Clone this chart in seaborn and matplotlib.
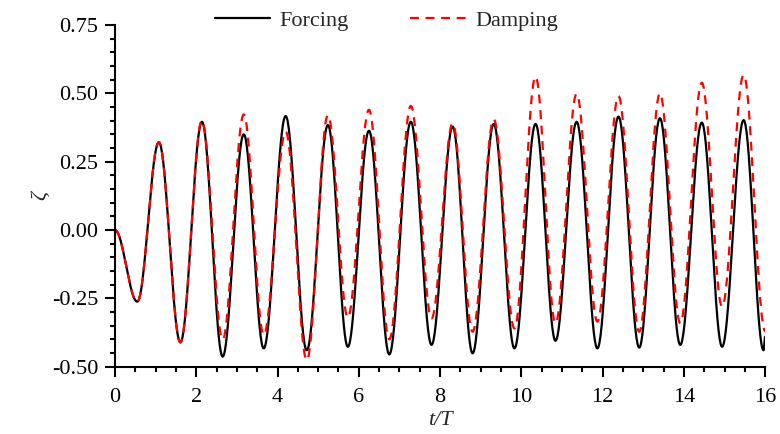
import numpy as np
import pandas as pd
import matplotlib
matplotlib.use("Agg")
import matplotlib.pyplot as plt
import seaborn as sns
from matplotlib.ticker import MultipleLocator, FormatStrFormatter

# Turning points (crests / troughs) of the surface elevation, time in wave periods
t_forcing = [0.00, 0.55, 1.08, 1.61, 2.14, 2.65, 3.17, 3.66, 4.20, 4.72, 5.24,
             5.73, 6.25, 6.75, 7.28, 7.79, 8.31, 8.80, 9.32, 9.83, 10.35,
             10.84, 11.36, 11.87, 12.39, 12.90, 13.41, 13.91, 14.44, 14.94,
             15.47, 15.96, 16.00]
zeta_forcing = [0.000, -0.262, 0.321, -0.411, 0.396, -0.463, 0.350, -0.433,
                0.417, -0.440, 0.384, -0.427, 0.363, -0.455, 0.396, -0.420,
                0.378, -0.451, 0.388, -0.433, 0.388, -0.405, 0.396, -0.433,
                0.415, -0.430, 0.409, -0.420, 0.393, -0.427, 0.402, -0.440,
                -0.390]

t_damping = [0.00, 0.55, 1.08, 1.61, 2.14, 2.65, 3.17, 3.66, 4.20, 4.72, 5.24,
             5.73, 6.25, 6.75, 7.28, 7.79, 8.31, 8.80, 9.32, 9.83, 10.35,
             10.84, 11.36, 11.87, 12.39, 12.90, 13.41, 13.91, 14.44, 14.94,
             15.47, 16.00]
zeta_damping = [0.000, -0.262, 0.321, -0.411, 0.400, -0.400, 0.423, -0.384,
                0.360, -0.476, 0.420, -0.320, 0.440, -0.400, 0.454, -0.323,
                0.390, -0.372, 0.405, -0.360, 0.561, -0.341, 0.498, -0.335,
                0.490, -0.372, 0.500, -0.341, 0.539, -0.280, 0.567, -0.370]

series_names = ["Forcing", "Damping"]


def wave_trace(times, values, n=40):
    """Smooth trace through successive turning points (zero slope at each)."""
    ts, vs = [], []
    for (t0, t1), (v0, v1) in zip(zip(times[:-1], times[1:]),
                                  zip(values[:-1], values[1:])):
        s = np.linspace(0.0, 1.0, n, endpoint=False)
        ts.append(t0 + (t1 - t0) * s)
        vs.append(v0 + (v1 - v0) * (1 - np.cos(np.pi * s)) / 2)
    ts.append([times[-1]])
    vs.append([values[-1]])
    return np.concatenate(ts), np.concatenate(vs)


frames = []
for name, tt, zz in [("Forcing", t_forcing, zeta_forcing),
                     ("Damping", t_damping, zeta_damping)]:
    tx, zx = wave_trace(tt, zz)
    frames.append(pd.DataFrame({"t": tx, "zeta": zx, "series": name}))
df = pd.concat(frames, ignore_index=True)

sns.set_theme(style="ticks")
plt.rcParams["font.family"] = ["Liberation Serif", "DejaVu Serif"]
plt.rcParams["axes.unicode_minus"] = False

fig = plt.figure(figsize=(7.8, 4.34), dpi=100)
ax = fig.add_axes([0.1474, 0.155, 0.8336, 0.7874])

sns.lineplot(data=df, x="t", y="zeta", hue="series", style="series",
             hue_order=series_names, style_order=series_names,
             palette={"Forcing": "black", "Damping": "red"},
             dashes={"Forcing": "", "Damping": (4, 3)},
             estimator=None, sort=False, linewidth=1.6, ax=ax)

handles, labels = ax.get_legend_handles_labels()
ax.get_legend().remove()
fig.legend(handles, labels, loc="center", bbox_to_anchor=(0.495, 0.953),
           ncol=2, frameon=False, fontsize=16, handlelength=2.5,
           handletextpad=0.4, columnspacing=2.8)

ax.set_xlim(0, 16)
ax.set_ylim(-0.5, 0.75)
ax.xaxis.set_major_locator(MultipleLocator(2))
ax.xaxis.set_minor_locator(MultipleLocator(0.5))
ax.yaxis.set_major_locator(MultipleLocator(0.25))
ax.yaxis.set_minor_locator(MultipleLocator(0.05))
ax.yaxis.set_major_formatter(FormatStrFormatter("%.2f"))

for side in ["top", "right"]:
    ax.spines[side].set_visible(False)
for side in ["left", "bottom"]:
    ax.spines[side].set_linewidth(1.5)
    ax.spines[side].set_color("black")

ax.tick_params(which="major", direction="out", length=7, width=1.5,
               labelsize=16, colors="black")
ax.tick_params(axis="x", which="major", pad=8)
ax.tick_params(axis="y", which="major", pad=5)
ax.tick_params(which="minor", direction="out", length=3.5, width=1.5,
               colors="black")

ax.set_xlabel("t/T", fontsize=16, style="italic", labelpad=3)
ax.set_ylabel("ζ", fontsize=16, style="italic", labelpad=1)

fig.savefig("out.png", dpi=100)
